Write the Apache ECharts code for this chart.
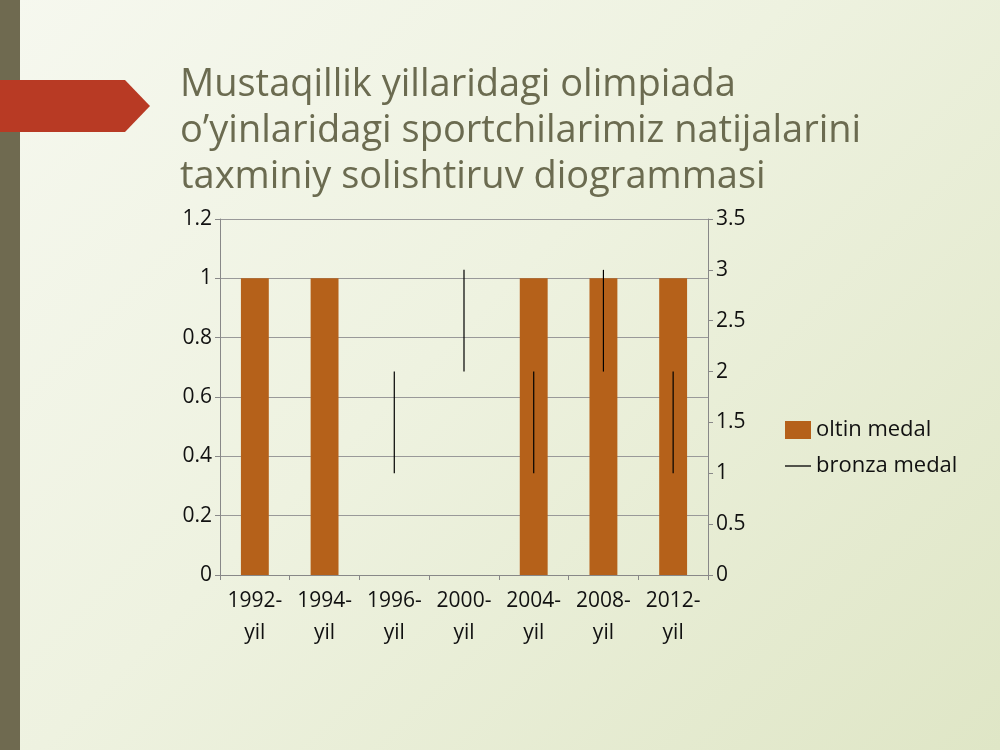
<!DOCTYPE html>
<html><head><meta charset="utf-8">
<script src="https://cdn.jsdelivr.net/npm/echarts@6/dist/echarts.min.js"></script>
<style>
html,body{margin:0;padding:0;}
#chart{width:1000px;height:750px;background:linear-gradient(135deg,#f6f8ef 0%,#eef2e0 45%,#dfe6c6 100%);}
</style></head>
<body><div id="chart"></div>
<script>
// chart data
var categories = ['1992-\nyil', '1994-\nyil', '1996-\nyil', '2000-\nyil', '2004-\nyil', '2008-\nyil', '2012-\nyil'];
var goldValues = [1, 1, 0, 0, 1, 1, 1];
var bronzeLow = [null, null, 1, 2, 1, 2, 1];
var bronzeHigh = [null, null, 2, 3, 2, 3, 2];
var leftTicks = [0, 0.2, 0.4, 0.6, 0.8, 1, 1.2];

var bronzeData = [];
for (var i = 0; i < categories.length; i++) {
    if (bronzeLow[i] !== null) bronzeData.push([i, bronzeLow[i], bronzeHigh[i]]);
}

var chart = echarts.init(document.getElementById('chart'));
var options = {
    textStyle: { fontFamily: 'Open Sans' },
    graphic: [
        { type: 'rect', shape: { x: 0, y: 0, width: 20, height: 750 }, style: { fill: '#6f6a50' } },
        { type: 'polygon', shape: { points: [[0, 80], [125, 80], [150, 106], [125, 132], [0, 132]] }, style: { fill: '#b83a24' } },
        { type: 'text', left: 180, top: 62, style: {
            text: 'Mustaqillik yillaridagi olimpiada\no\u2019yinlaridagi sportchilarimiz natijalarini\ntaxminiy solishtiruv diogrammasi',
            font: '38px "Open Sans"', fill: '#6b6b50', lineHeight: 46 } }
    ],
    legend: {
        orient: 'vertical', left: 780, top: 414, itemGap: 14,
        textStyle: { fontSize: 22, color: '#111' },
        data: [
            { name: 'oltin medal', icon: 'rect', itemStyle: { color: '#b5611a' } },
            { name: 'bronza medal', icon: 'path://M0,0L20,0L20,1L0,1Z', itemStyle: { color: '#000' } }
        ],
        itemWidth: 26, itemHeight: 18
    },
    grid: { left: 220, right: 292, top: 219, bottom: 175 },
    xAxis: {
        type: 'category', data: categories,
        axisLine: { lineStyle: { color: '#888' } },
        axisTick: { show: true, interval: 0, lineStyle: { color: '#888' } },
        axisLabel: { fontSize: 21, color: '#111', interval: 0, lineHeight: 32, margin: 10 }
    },
    yAxis: [
        { type: 'value', min: 0, max: 1.2, interval: 0.2,
          axisLine: { show: true, lineStyle: { color: '#888' } }, axisTick: { show: true, lineStyle: { color: '#888' } },
          splitLine: { lineStyle: { color: '#999' } },
          axisLabel: { fontSize: 21, color: '#111', formatter: function (v) { return leftTicks.indexOf(+v.toFixed(1)) >= 0 ? String(+v.toFixed(1)) : ''; } } },
        { type: 'value', min: 0, max: 3.5, interval: 0.5,
          axisLine: { show: true, lineStyle: { color: '#888' } }, axisTick: { show: true, lineStyle: { color: '#888' } },
          splitLine: { show: false },
          axisLabel: { fontSize: 21, color: '#111' } }
    ],
    series: [
        { name: 'oltin medal', type: 'bar', data: goldValues, barWidth: '40%', itemStyle: { color: '#b5611a' } },
        { name: 'bronza medal', type: 'custom', yAxisIndex: 1, data: bronzeData, z: 10,
          itemStyle: { color: '#000' },
          renderItem: function (params, api) {
              var p1 = api.coord([api.value(0), api.value(1)]);
              var p2 = api.coord([api.value(0), api.value(2)]);
              return { type: 'line', z2: 10, shape: { x1: p1[0], y1: p1[1], x2: p2[0], y2: p2[1] }, style: { stroke: '#000', lineWidth: 1.2 } };
          } }
    ]
};
chart.setOption(options);
</script></body></html>
